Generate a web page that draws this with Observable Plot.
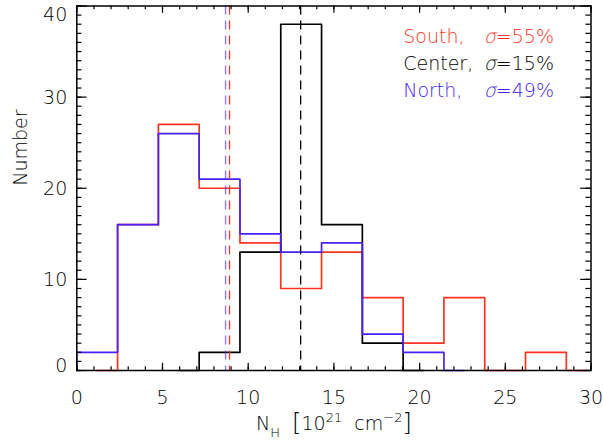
<!DOCTYPE html>
<html><head><meta charset="utf-8">
<script src="https://cdn.jsdelivr.net/npm/d3@7"></script>
<script src="https://cdn.jsdelivr.net/npm/@observablehq/plot@0.6"></script>
<style>
html,body{margin:0;padding:0;background:#fff;}
svg text{font-weight:200;}
svg tspan.sig{font-family:"DejaVu Sans ExtraLight","DejaVu Sans Light","DejaVu Sans";font-style:italic;font-weight:200;}
</style>
</head><body><div id="chart"></div>
<script>
// ---- data ----
const binCenters   = [-1.19, 1.19, 3.57, 5.95, 8.33, 10.71, 13.09, 15.47, 17.85, 20.23, 22.61, 24.99, 27.37, 29.75];
const southCounts  = [null, 0, 16, 27, 20, 14, 9, 13, 8, 3, 8, 0, 2, 0];
const centerCounts = [null, null, null, 0, 2, 13, 38, 16, 3, 0, null, null, null, null];
const northCounts  = [0, 2, 16, 26, 21, 15, 13, 14, 4, 2, 0, null, null, null];
const medians      = {South: 8.91, Center: 13.06, North: 8.68};
const legendNames  = ["South,", "Center,", "North,"];
const legendSigma  = ["55%", "15%", "49%"];
const xTicks = [0, 5, 10, 15, 20, 25, 30];
const yTicks = [0, 10, 20, 30, 40];
const xMinor = d3.range(0, 31, 1);
const yMinor = d3.range(0, 41, 1);

// ---- styles ----
const colors = {South: "#ff3322", Center: "#000000", North: "#4422ff"};
const font = "DejaVu Sans";
const fs = 19;
const W = 590.5 - 76.3, H = 370 - 5.5;

function series(counts) {
  return binCenters.map((x, i) => ({x, n: counts[i]})).filter(d => d.n !== null);
}

const marks = [];
// histograms (IDL psym=10 style steps)
marks.push(Plot.line(series(southCounts),  {x: "x", y: "n", curve: "step", stroke: colors.South,  strokeWidth: 1.7, clip: true}));
marks.push(Plot.line(series(centerCounts), {x: "x", y: "n", curve: "step", stroke: colors.Center, strokeWidth: 1.7, clip: true}));
marks.push(Plot.line(series(northCounts),  {x: "x", y: "n", curve: "step", stroke: colors.North,  strokeWidth: 1.7, clip: true}));
// medians
marks.push(Plot.ruleX([medians.North],  {x: d => d, stroke: colors.North, strokeOpacity: 0.6, strokeWidth: 1.4, strokeDasharray: "9,6"}));
marks.push(Plot.ruleX([medians.South],  {x: d => d, stroke: colors.South, strokeWidth: 1.3, strokeDasharray: "9,6"}));
marks.push(Plot.ruleX([medians.Center], {x: d => d, stroke: colors.Center, strokeWidth: 1.3, strokeDasharray: "9,6"}));
// frame
marks.push(Plot.frame({stroke: "black", strokeWidth: 1.5}));
// inward ticks on all four sides
marks.push(Plot.tickX(xMinor, {x: d => d, insetTop: H - 3.65, stroke: "black", strokeWidth: 1.2}));
marks.push(Plot.tickX(xMinor, {x: d => d, insetBottom: H - 3.65, stroke: "black", strokeWidth: 1.2}));
marks.push(Plot.tickX(xTicks, {x: d => d, insetTop: H - 7.3, stroke: "black", strokeWidth: 1.2}));
marks.push(Plot.tickX(xTicks, {x: d => d, insetBottom: H - 7.3, stroke: "black", strokeWidth: 1.2}));
marks.push(Plot.tickY(yMinor, {y: d => d, insetRight: W - 5.1, stroke: "black", strokeWidth: 1.2}));
marks.push(Plot.tickY(yMinor, {y: d => d, insetLeft: W - 5.1, stroke: "black", strokeWidth: 1.2}));
marks.push(Plot.tickY(yTicks, {y: d => d, insetRight: W - 10.3, stroke: "black", strokeWidth: 1.2}));
marks.push(Plot.tickY(yTicks, {y: d => d, insetLeft: W - 10.3, stroke: "black", strokeWidth: 1.2}));
// x tick labels
marks.push(Plot.text(xTicks, {x: d => d, text: d => String(d), frameAnchor: "bottom", dy: 27, lineAnchor: "middle", fill: "black", fontSize: fs}));
// y tick labels (IDL nudges the end labels inward)
marks.push(Plot.text(yTicks.filter(d => d === 0), {y: d => d, text: d => String(d), frameAnchor: "left", dx: -9.5, dy: -5, textAnchor: "end", lineAnchor: "middle", fill: "black", fontSize: fs}));
marks.push(Plot.text(yTicks.filter(d => d > 0 && d < 40), {y: d => d, text: d => String(d), frameAnchor: "left", dx: -9.5, dy: 1, textAnchor: "end", lineAnchor: "middle", fill: "black", fontSize: fs}));
marks.push(Plot.text(yTicks.filter(d => d === 40), {y: d => d, text: d => String(d), frameAnchor: "left", dx: -9.5, dy: 8.5, textAnchor: "end", lineAnchor: "middle", fill: "black", fontSize: fs}));
// axis titles
marks.push(Plot.text(["XTITLE"], {text: d => d, frameAnchor: "bottom", dy: 53, lineAnchor: "middle", fill: "black", fontSize: fs}));
marks.push(Plot.text(["Number"], {text: d => d, frameAnchor: "left", dx: -55.8, dy: -2.5, rotate: -90, lineAnchor: "middle", fill: "black", fontSize: fs}));
// legend
const rowDy = [31.2, 57.8, 85.2];
const keys = ["South", "Center", "North"];
legendNames.forEach((name, i) => {
  marks.push(Plot.text([name], {text: d => d, frameAnchor: "top-left", dx: 326.4, dy: rowDy[i], textAnchor: "start", lineAnchor: "middle", fill: colors[keys[i]], fontSize: fs}));
  marks.push(Plot.text(["σ=" + legendSigma[i]], {text: d => d, frameAnchor: "top-left", dx: 407, dy: rowDy[i], textAnchor: "start", lineAnchor: "middle", fill: colors[keys[i]], fontSize: fs}));
});

const plot = Plot.plot({
  width: 603, height: 441,
  marginLeft: 76.3, marginRight: 12.5, marginTop: 5.5, marginBottom: 71,
  style: {fontFamily: font, fontSize: fs + "px", background: "white", overflow: "visible"},
  x: {domain: [0, 30], axis: null},
  y: {domain: [0, 40], axis: null},
  marks
});
document.getElementById("chart").appendChild(plot);

// let clipped lines sitting on the bottom axis stay fully visible
d3.select(plot).selectAll("clipPath rect").each(function() {
  const r = d3.select(this);
  const y = +r.attr("y"), h = +r.attr("height");
  r.attr("y", y - 3).attr("height", h + 6);
});

// rich text: italic sigma, sub/superscripts
d3.select(plot).selectAll("text").each(function() {
  const t = d3.select(this);
  const s = this.textContent;
  if (s.startsWith("σ=")) {
    t.text(null).style("white-space", "pre");
    t.append("tspan").attr("class", "sig").text("σ");
    t.append("tspan").text(s.slice(1));
  } else if (s === "XTITLE") {
    t.text(null).style("white-space", "pre");
    const parts = [
      {t: "N"}, {t: "H", sub: true}, {t: "  "}, {t: "[", big: true}, {t: "10"}, {t: "21", sup: true},
      {t: "  cm"}, {t: "−2", sup: true}, {t: "]", big: true}
    ];
    let shift = 0;
    parts.forEach(p => {
      const target = p.sub ? 7 : p.sup ? -8 : p.big ? 1 : 0;
      const sp = t.append("tspan").attr("dy", target - shift).text(p.t);
      if (p.sub || p.sup) sp.attr("font-size", 13);
      if (p.big) sp.attr("font-size", 24);
      shift = target;
    });
  }
});
</script>
</body></html>
